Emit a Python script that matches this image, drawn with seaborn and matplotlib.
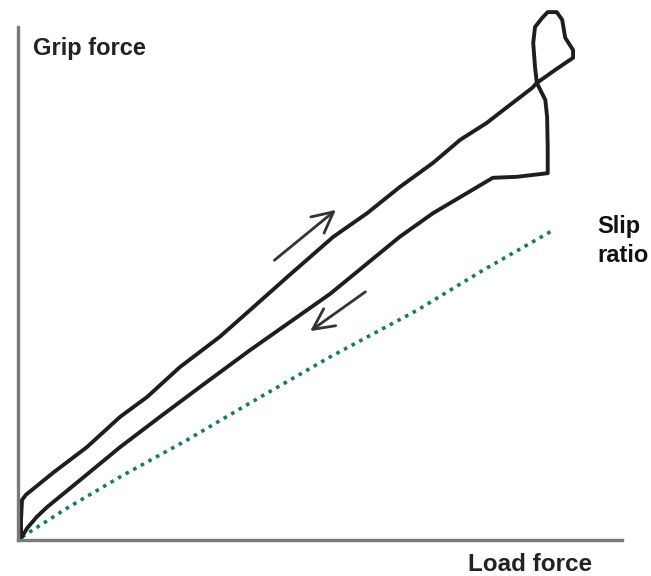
import numpy as np
import pandas as pd
import seaborn as sns
import matplotlib
matplotlib.use('Agg')
import matplotlib.pyplot as plt

# grip force trace (loading up the upper branch, loop at peak, unloading down the lower branch)
load_force = [0.5, 0.5, 0.66, 1.3, 5.8, 11.4, 16.9, 21.4, 26.8, 33.4, 38.4, 45.0, 52.2, 57.8,
              63.2, 68.7, 73.2, 77.6, 81.0, 85.1, 85.9, 88.9, 91.9, 91.9, 90.6, 90.1, 89.2,
              87.7, 86.8, 85.6, 85.3, 85.6, 85.9, 87.3, 87.6, 87.7, 87.7, 82.6, 78.6, 74.3,
              68.7, 63.2, 51.7, 38.4, 34.6, 30.1, 23.5, 16.9, 10.3, 4.8, 3.1, 1.5, 0.66]
grip_force = [0.2, 3.9, 7.8, 8.8, 13.1, 18.1, 24.0, 27.9, 33.7, 39.6, 44.8, 51.7, 59.1, 63.7,
              68.8, 73.5, 78.0, 81.3, 84.4, 88.1, 89.1, 91.6, 94.0, 95.5, 97.9, 101.4, 102.9,
              102.9, 101.8, 100.0, 96.9, 92.2, 89.1, 85.8, 82.5, 76.6, 71.5, 70.8, 70.6, 67.6,
              63.7, 59.1, 48.0, 37.0, 33.7, 29.8, 24.0, 18.1, 11.7, 6.4, 4.5, 2.3, 0.6]

# slip ratio line
slip_load = [0.66, 8.1, 16.9, 28.0, 38.4, 51.7, 66.1, 77.0, 88.6]
slip_grip = [0.6, 6.2, 12.3, 19.5, 26.7, 35.7, 44.8, 52.6, 60.4]

sns.set_style('white')
plt.rcParams['font.family'] = ['Liberation Sans', 'DejaVu Sans']

fig = plt.figure(figsize=(6.51, 5.76), dpi=100)
ax = fig.add_axes([18 / 651, 36 / 576, 604 / 651, 513 / 576])

trace = pd.DataFrame({'load': load_force, 'grip': grip_force})
slip = pd.DataFrame({'load': slip_load, 'grip': slip_grip})

sns.lineplot(data=slip, x='load', y='grip', sort=False, estimator=None, ax=ax,
             color='#1b7a62', lw=2.6, linestyle=(0, (1, 1.4)), clip_on=False)
sns.lineplot(data=trace, x='load', y='grip', sort=False, estimator=None, ax=ax,
             color='#1e1e1e', lw=2.8, clip_on=False)

# direction arrows
arrow_style = dict(arrowstyle='->,head_length=1.5,head_width=0.75', color='#333333', lw=2.0)
ax.annotate('', xy=(53.0, 64.7), xytext=(42.1, 54.2), arrowprops=arrow_style)
ax.annotate('', xy=(48.0, 40.4), xytext=(57.9, 48.7), arrowprops=arrow_style)

ax.set_xlim(0, 100)
ax.set_ylim(0, 100)
ax.set_xticks([])
ax.set_yticks([])
ax.set_xlabel('')
ax.set_ylabel('')
for side in ['top', 'right']:
    ax.spines[side].set_visible(False)
for side in ['left', 'bottom']:
    ax.spines[side].set_color('#7a7a7a')
    ax.spines[side].set_linewidth(2.4)

ax.text(2.5, 94.5, 'Grip force', fontsize=17, fontweight='bold', color='#222222', va='baseline')
ax.text(74.5, -6.0, 'Load force', fontsize=17.5, fontweight='bold', color='#222222',
        va='baseline', clip_on=False)
ax.text(95.9, 59.8, 'Slip', fontsize=17, fontweight='bold', color='#111111', va='baseline', clip_on=False)
ax.text(95.9, 54.2, 'ratio', fontsize=17, fontweight='bold', color='#111111', va='baseline', clip_on=False)

fig.savefig('out.png', dpi=100)
